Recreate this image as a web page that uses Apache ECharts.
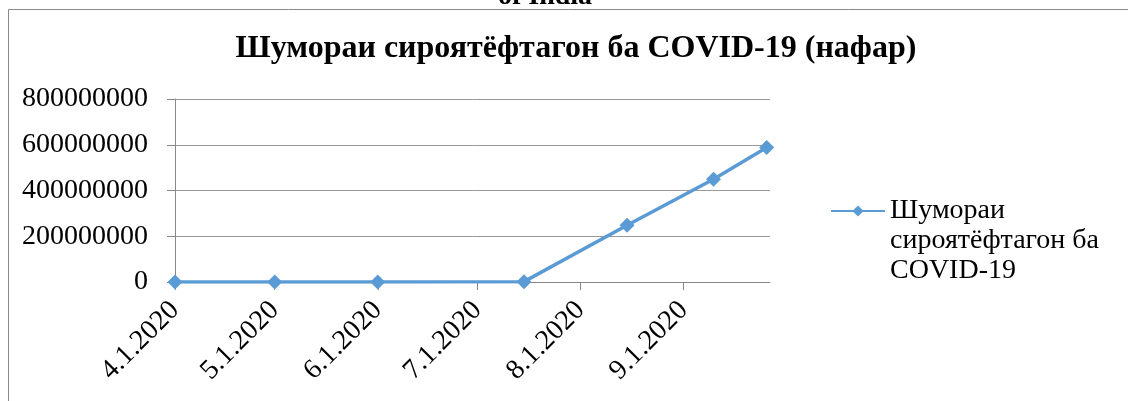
<!DOCTYPE html>
<html>
<head>
<meta charset="utf-8">
<script src="https://cdn.jsdelivr.net/npm/echarts@6/dist/echarts.min.js"></script>
<style>
  html, body { margin: 0; padding: 0; background: #fff; }
  #chart { width: 1128px; height: 401px; }
</style>
</head>
<body>
<div id="chart"></div>
<script>
  var seriesName = 'Шумораи сироятёфтагон ба COVID-19'
  var dates = ['2020-04-01', '2020-05-01', '2020-06-01', '2020-07-15', '2020-08-15', '2020-09-10', '2020-09-26']
  var cases = [0, 0, 0, 1500000, 248000000, 449000000, 588000000]
  var tickDates = ['2020-04-01', '2020-05-01', '2020-06-01', '2020-07-01', '2020-08-01', '2020-09-01']
  var axisStart = '2020-04-01'
  var axisEnd = '2020-09-27'
  var yMin = 0
  var yMax = 800000000
  var yStep = 200000000

  var serif = 'Liberation Serif'

  function toTime(s) {
    var p = s.split('-')
    return new Date(+p[0], +p[1] - 1, +p[2]).getTime()
  }

  var chart = echarts.init(document.getElementById('chart'))
  chart.setOption({
    animation: false,
    graphic: [
      {
        type: 'rect',
        shape: { x: 8.5, y: 9.5, width: 1130, height: 400 },
        style: { fill: null, stroke: '#888', lineWidth: 1 }
      },
      {
        type: 'text',
        style: {
          x: 545, y: 11, text: 'of India', textAlign: 'center', textVerticalAlign: 'bottom',
          font: 'bold 28px ' + serif, fill: '#000'
        }
      }
    ],
    title: {
      text: 'Шумораи сироятёфтагон ба COVID-19 (нафар)',
      left: 576,
      top: 33,
      padding: 0,
      textAlign: 'center',
      textStyle: { fontFamily: serif, fontWeight: 'bold', fontSize: 32, color: '#000' }
    },
    legend: {
      left: 830,
      top: 136,
      padding: 0,
      itemWidth: 54,
      itemHeight: 14,
      itemGap: 0,
      // two blank lines on top keep the marker level with the first line of the label
      formatter: function (name) {
        return '\n\n' + name.replace(' сироятёфтагон', '\nсироятёфтагон').replace(' COVID', '\nCOVID')
      },
      textStyle: { fontFamily: serif, fontSize: 28, lineHeight: 30, color: '#000' }
    },
    grid: { left: 175, right: 358, top: 99, bottom: 119, containLabel: false },
    xAxis: {
      type: 'value',
      min: toTime(axisStart),
      max: toTime(axisEnd),
      axisLine: { lineStyle: { color: '#888', width: 1 } },
      axisTick: { show: true, length: 8, lineStyle: { color: '#888' }, customValues: tickDates.map(toTime) },
      axisLabel: {
        customValues: tickDates.map(toTime),
        rotate: 45,
        margin: 24,
        fontFamily: serif,
        fontSize: 28,
        color: '#000',
        formatter: function (v) {
          var d = new Date(v)
          return (d.getMonth() + 1) + '.' + d.getDate() + '.' + d.getFullYear()
        }
      },
      splitLine: { show: false }
    },
    yAxis: {
      type: 'value',
      min: yMin,
      max: yMax,
      interval: yStep,
      axisLine: { show: true, lineStyle: { color: '#888', width: 1 } },
      axisTick: { show: true, length: 8, lineStyle: { color: '#888' } },
      axisLabel: {
        margin: 27, fontFamily: serif, fontSize: 28, color: '#000',
        formatter: function (v) { return String(v) }
      },
      splitLine: { lineStyle: { color: '#999', width: 1 } }
    },
    series: [
      {
        name: seriesName,
        type: 'line',
        data: dates.map(function (d, i) { return [toTime(d), cases[i]] }),
        symbol: 'diamond',
        symbolSize: 15,
        color: '#5B9BD5',
        lineStyle: { width: 3.5, color: '#5B9BD5' },
        itemStyle: { color: '#5B9BD5' }
      }
    ]
  })
</script>
</body>
</html>
